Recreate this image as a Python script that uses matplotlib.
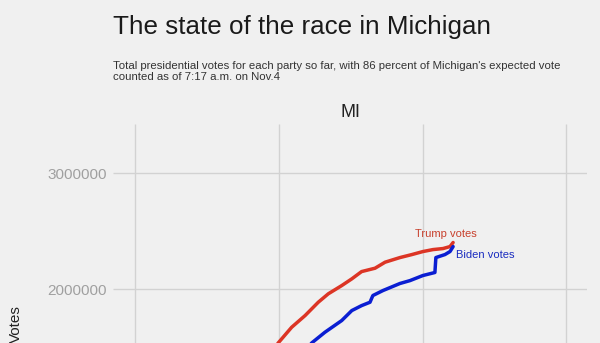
import matplotlib
matplotlib.use('Agg')
import matplotlib.pyplot as plt
from matplotlib import style

# hours after midnight (Nov. 4) and cumulative votes
trump_hours = [-0.4, -0.03, 0.53, 1.09, 1.64, 2.06, 2.62, 3.04, 3.45, 4.01, 4.43,
               5.05, 5.55, 6.01, 6.43, 6.85, 7.14, 7.27]
trump_votes = [1420000, 1535000, 1670000, 1771000, 1886000, 1959000, 2030000,
               2088000, 2151000, 2180000, 2232000, 2272000, 2298000, 2324000,
               2341000, 2350000, 2367000, 2402000]

biden_hours = [1.0, 1.37, 1.92, 2.62, 3.04, 3.45, 3.80, 3.92, 4.34, 5.05, 5.47,
               6.01, 6.51, 6.55, 6.93, 7.14, 7.27]
biden_votes = [1440000, 1535000, 1627000, 1728000, 1814000, 1857000, 1886000,
               1944000, 1987000, 2048000, 2073000, 2117000, 2143000, 2272000,
               2298000, 2324000, 2367000]

x_ticks = [-6, 0, 6, 12]
y_ticks = [2000000, 3000000]

style.use('fivethirtyeight')
plt.rcParams['font.family'] = ['Liberation Sans', 'DejaVu Sans']

bg = '#f0f0f0'
fig = plt.figure(figsize=(6, 3.43), dpi=100, facecolor=bg)
# the chart is cropped at the bottom, so the axes run past the figure edge
ax = fig.add_axes([113 / 600, 1 - 524 / 343, 474 / 600, 400 / 343])
ax.set_facecolor(bg)

ax.plot(trump_hours, trump_votes, color='#dc3525', lw=2.5, solid_capstyle='round')
ax.plot(biden_hours, biden_votes, color='#0a1ed2', lw=2.5, solid_capstyle='round')

ax.annotate('Trump votes', (trump_hours[-1], trump_votes[-1]), xytext=(-27.5, 4),
            textcoords='offset points', ha='left', va='baseline',
            fontsize=8, color='#c8402c')
ax.annotate('Biden votes', (biden_hours[-1], biden_votes[-1]), xytext=(2.2, -8.5),
            textcoords='offset points', ha='left', va='baseline',
            fontsize=8, color='#1a2cc0')

ax.set_xlim(-6.93, 12.86)
ax.set_ylim(-30000, 3426000)
ax.set_xticks(x_ticks)
ax.set_yticks(y_ticks)
ax.set_yticklabels([str(v) for v in y_ticks])
ax.set_xticklabels([])
ax.tick_params(axis='both', length=0, pad=4.5, labelsize=11, labelcolor='#a0a0a0')
ax.grid(True, color='#d2d2d2', lw=1.0)
for s in ax.spines.values():
    s.set_visible(False)

ax.set_ylabel('Votes', fontsize=11, color='#222222')
ax.yaxis.set_label_coords(-0.19, 0.5)
ax.set_title('MI', fontsize=13, pad=4.7, color='#222222')

fig.text(113 / 600, 1 - 34 / 343, 'The state of the race in Michigan',
         fontsize=18.7, color='#1a1a1a', va='baseline', ha='left')
fig.text(113 / 600, 1 - 61 / 343,
         "Total presidential votes for each party so far, with 86 percent of Michigan's expected vote\n"
         "counted as of 7:17 a.m. on Nov.4",
         fontsize=8.2, color='#333333', va='top', ha='left', linespacing=1.1)

fig.savefig('out.png', dpi=100, facecolor=bg)
